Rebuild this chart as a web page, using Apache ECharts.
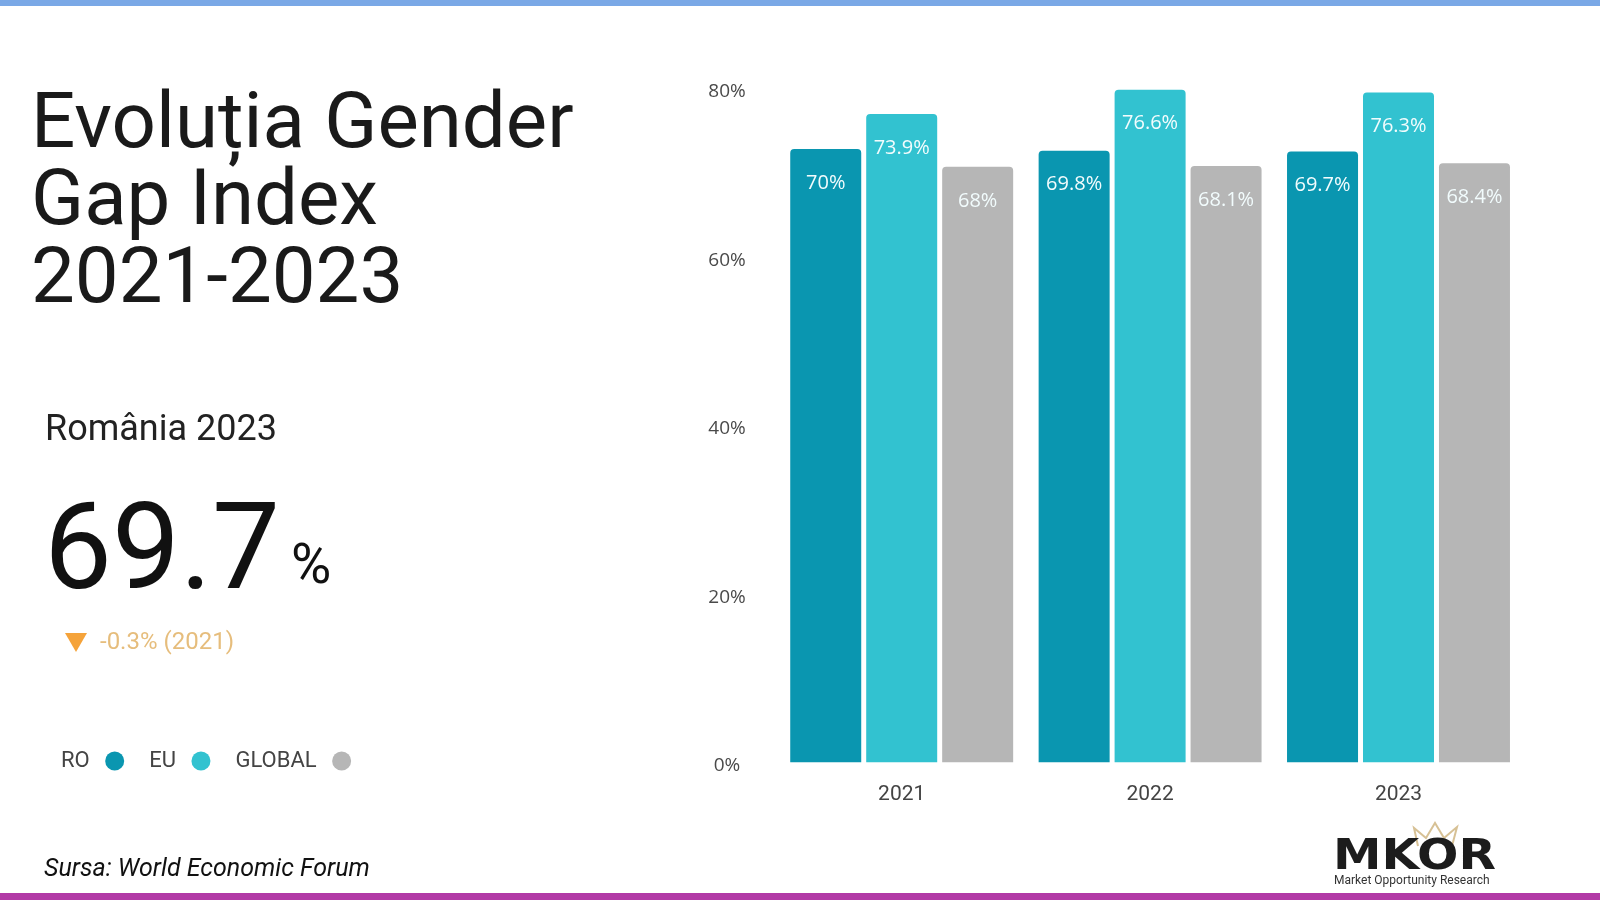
<!DOCTYPE html>
<html>
<head>
<meta charset="utf-8">
<title>Gender Gap Index 2021-2023</title>
<script src="https://cdn.jsdelivr.net/npm/echarts@6/dist/echarts.min.js"></script>
<style>
  html, body { margin: 0; padding: 0; background: #fff; }
  #main { width: 1600px; height: 900px; }
</style>
</head>
<body>
<div id="main"></div>
<script>
// date
var years = ["2021", "2022", "2023"];
var roValues = [70, 69.8, 69.7];
var euValues = [73.9, 76.6, 76.3];
var globalValues = [68, 68.1, 68.4];
var tickValues = [0, 20, 40, 60, 80];

var seriesNames = ["RO", "EU", "GLOBAL"];
var colors = ["#0a96b0", "#32c2d0", "#b6b6b6"];

// valoarea mare din stanga + diferenta fata de 2021
var last = roValues[roValues.length - 1];
var diff = (last - roValues[0]).toFixed(1);

var chart = echarts.init(document.getElementById("main"));

function barSeries(name, data, color) {
  return {
    name: name,
    type: "bar",
    xAxisIndex: 0,
    yAxisIndex: 0,
    barWidth: 71,
    barGap: "7%",
    data: data,
    itemStyle: { color: color, borderRadius: [4, 4, 0, 0] },
    label: {
      show: true,
      position: "insideTop",
      distance: 24,
      formatter: "{c}%",
      color: "#f2fcfd",
      fontFamily: "Open Sans",
      fontSize: 20
    }
  };
}

// pozitia verticala a textului (centru) din linia de baza
function mid(baseline, size) {
  return baseline - 0.29 * size;
}

function txt(x, baseline, text, size, fill, extra) {
  var style = {
    x: x,
    y: mid(baseline, size),
    text: text,
    fill: fill,
    fontFamily: "Roboto",
    fontSize: size,
    align: "left",
    verticalAlign: "middle"
  };
  if (extra) {
    for (var k in extra) style[k] = extra[k];
  }
  return { type: "text", silent: true, style: style };
}

var option = {
  animation: false,
  backgroundColor: "#ffffff",
  legend: {
    data: seriesNames,
    left: 61,
    top: 750,
    padding: 0,
    align: "right",
    icon: "circle",
    itemWidth: 40,
    itemHeight: 19,
    itemGap: 25,
    selectedMode: false,
    textStyle: { fontFamily: "Roboto", fontSize: 22, color: "#444" }
  },
  grid: [
    // bare
    { left: 777.5, width: 745.2, top: 59.2, height: 703.1 },
    // axa cu etichete procentuale
    { left: 760, width: 10, top: 92, height: 674 }
  ],
  xAxis: [
    {
      type: "category",
      gridIndex: 0,
      data: years,
      axisLine: { show: false },
      axisTick: { show: false },
      axisLabel: {
        margin: 22,
        fontFamily: "Roboto",
        fontSize: 21,
        color: "#444"
      }
    },
    { type: "value", gridIndex: 1, show: false }
  ],
  yAxis: [
    {
      type: "value",
      gridIndex: 0,
      min: 1.6,
      max: 80,
      show: false,
      splitLine: { show: false }
    },
    {
      type: "value",
      gridIndex: 1,
      min: tickValues[0],
      max: tickValues[tickValues.length - 1],
      interval: tickValues[1] - tickValues[0],
      axisLine: { show: false },
      axisTick: { show: false },
      splitLine: { show: false },
      axisLabel: {
        formatter: "{value}%",
        align: "center",
        margin: 33,
        fontFamily: "Open Sans",
        fontSize: 19,
        color: "#4a4a4a"
      }
    }
  ],
  series: [
    barSeries(seriesNames[0], roValues, colors[0]),
    barSeries(seriesNames[1], euValues, colors[1]),
    barSeries(seriesNames[2], globalValues, colors[2])
  ],
  graphic: [
    // linie sus / jos
    { type: "rect", silent: true, shape: { x: 0, y: 0, width: 1600, height: 6 }, style: { fill: "#7aa8e6" } },
    { type: "rect", silent: true, shape: { x: 0, y: 893, width: 1600, height: 7 }, style: { fill: "#b23aa6" } },
    // titlu
    txt(31, 150, "Evoluția Gender", 78, "#1a1a1a"),
    txt(31, 227, "Gap Index", 78, "#1a1a1a"),
    txt(31, 305, "2021-2023", 78, "#1a1a1a"),
    txt(45, 441, "România " + years[years.length - 1], 36, "#222"),
    txt(44, 593, String(last), 121, "#111"),
    txt(291, 585, "%", 55, "#111"),
    {
      type: "polygon",
      silent: true,
      shape: { points: [[65, 633], [87, 633], [76, 652]] },
      style: { fill: "#f5a33a" }
    },
    txt(100, 650, diff + "% (" + years[0] + ")", 24, "#e6bd7c"),
    txt(44, 877, "Sursa: World Economic Forum", 25, "#111", { fontStyle: "italic" }),
    // logo MKOR
    {
      type: "polyline",
      silent: true,
      shape: { points: [[1418, 846], [1414, 828], [1426, 838], [1435, 823], [1444, 838], [1457, 827], [1452, 846]] },
      style: { stroke: "#cdb27a", lineWidth: 2, fill: null, opacity: 0.8 }
    },
    {
      type: "text",
      silent: true,
      x: 1333,
      y: mid(870, 42),
      scaleX: 1.16,
      style: {
        x: 0, y: 0, text: "MKOR", fill: "#1c1c1c",
        fontFamily: "DejaVu Sans", fontWeight: "bold", fontSize: 42,
        align: "left", verticalAlign: "middle"
      }
    },
    txt(1334, 884, "Market Opportunity Research", 12, "#333")
  ]
};

chart.setOption(option);
</script>
</body>
</html>
